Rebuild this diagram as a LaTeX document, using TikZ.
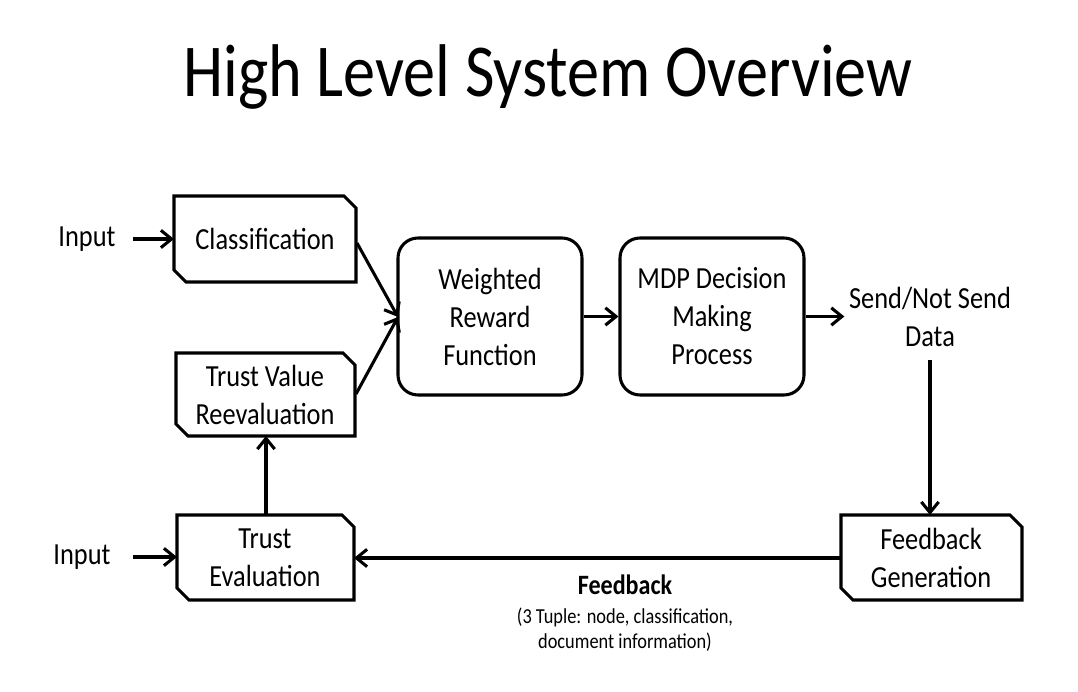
\documentclass[tikz,border=0pt]{standalone}
\usepackage{fontspec}
\setmainfont{Carlito}
\newfontfamily\cond[FakeStretch=0.86]{Carlito}
\usetikzlibrary{arrows.meta}
\begin{document}
\begin{tikzpicture}[x=0.75pt,y=-0.75pt,
  conn/.style={line width=2.3pt,-{Straight Barb[length=8pt,width=13pt,line width=2.3pt]}},
  body/.style={font=\cond\fontsize{23}{28.5}\selectfont,align=center},
  snipbox/.style={line width=2.3pt,draw=black,fill=white},
  roundbox/.style={draw,line width=2.3pt,rounded corners=15pt,minimum width=138pt,minimum height=117.75pt,align=center,font=\cond\fontsize{23}{28.5}\selectfont}
]
\useasboundingbox (0,0) rectangle (1078,692);
\fill[white] (0,0) rectangle (1078,692);
\node[font=\cond\fontsize{56}{60}\selectfont] (title) at (548,77) {High Level System Overview};

\newcommand{\snipbox}[5]{% name, x1,y1,x2,y2
  \draw[snipbox] (#2,#3) -- ({#4-12},#3) -- (#4,{#3+12}) -- (#4,#5) -- ({#2+12},#5) -- (#2,{#5-12}) -- cycle;
  \coordinate (#1) at ({(#2+#4)/2},{(#3+#5)/2});
}
\snipbox{cls}{174}{196}{356}{282}
\snipbox{tvr}{176}{353}{355}{436}
\snipbox{te}{177}{515}{354}{600}
\snipbox{fg}{841}{515}{1022}{600}

\node[body] (clsT) at (265,239) {Classification};
\node[body] (tvrT) at (265,395) {Trust Value\\Reevaluation};
\node[body] (teT) at (265,558) {Trust\\Evaluation};
\node[body] (fgT) at (931,558) {Feedback\\Generation};

\node[roundbox] (wrf) at (490,316.5) {Weighted\\Reward\\Function};
\node[roundbox] (mdp) at (712,316.5) {MDP Decision\\Making\\Process};

\node[body] (in1) at (87,239) {Input};
\node[body] (in2) at (82,557) {Input};
\node[body] (send) at (930,317) {Send/Not Send\\Data};

\node[font=\cond\bfseries\fontsize{21}{24}\selectfont] (fb) at (625,585) {Feedback};
\node[font=\cond\fontsize{16}{19}\selectfont,align=center] (fbd) at (625,630) {(3 Tuple: node, classification,\\document information)};

\coordinate (in1S) at (133,239);
\coordinate (in2S) at (133,557);
\coordinate (clsL) at (174,239);
\coordinate (teL) at (177,557);
\coordinate (clsR) at (357,243);
\coordinate (tvrR) at (356,394);
\coordinate (wrfL) at (398,317);
\draw[conn] (in1S) -- (clsL);
\draw[conn] (in2S) -- (teL);
\draw[conn] (tvrR) -- (wrfL);
\draw[conn] (clsR) -- (wrfL);
\draw[conn] (wrf.east) -- (mdp.west);
\draw[conn] (mdp.east) -- (send.west |- mdp.east);
\coordinate (fgTop) at (930,515);
\coordinate (sendB) at (930,360);
\draw[conn] (sendB) -- (fgTop);
\coordinate (fgL) at (841,558);
\coordinate (teR) at (354,558);
\draw[conn] (fgL) -- (teR);
\coordinate (teTop) at (266,515);
\coordinate (tvrB) at (266,436);
\draw[conn] (teTop) -- (tvrB);
\end{tikzpicture}
\end{document}
